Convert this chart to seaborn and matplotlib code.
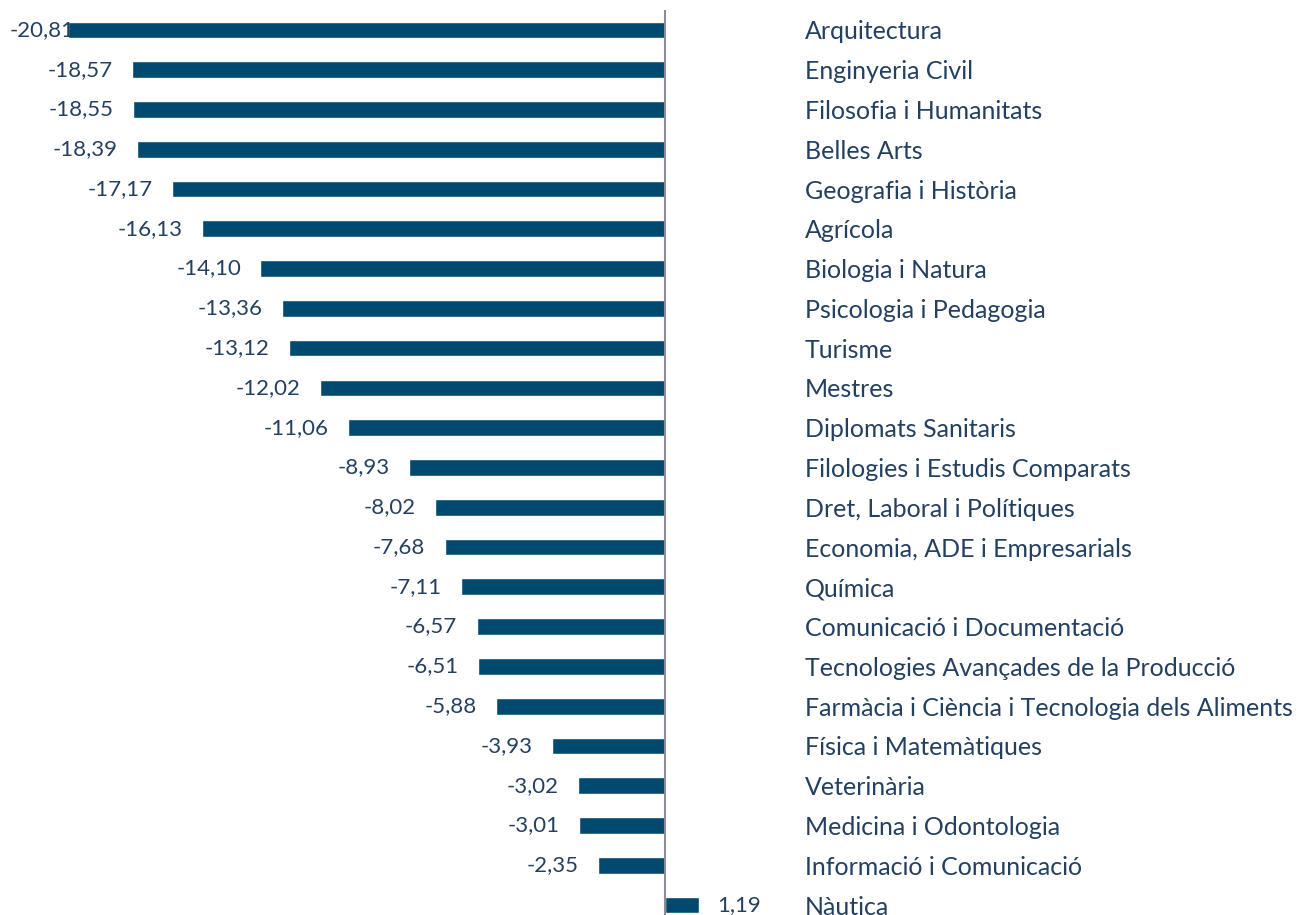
import matplotlib
matplotlib.use("Agg")
import matplotlib.pyplot as plt
import seaborn as sns
import pandas as pd

# Data
categories = [
    "Arquitectura", "Enginyeria Civil", "Filosofia i Humanitats", "Belles Arts",
    "Geografia i Història", "Agrícola", "Biologia i Natura", "Psicologia i Pedagogia",
    "Turisme", "Mestres", "Diplomats Sanitaris", "Filologies i Estudis Comparats",
    "Dret, Laboral i Polítiques", "Economia, ADE i Empresarials", "Química",
    "Comunicació i Documentació", "Tecnologies Avançades de la Producció",
    "Farmàcia i Ciència i Tecnologia dels Aliments", "Física i Matemàtiques",
    "Veterinària", "Medicina i Odontologia", "Informació i Comunicació", "Nàutica",
]
values = [
    -20.81, -18.57, -18.55, -18.39, -17.17, -16.13, -14.10, -13.36, -13.12,
    -12.02, -11.06, -8.93, -8.02, -7.68, -7.11, -6.57, -6.51, -5.88, -3.93,
    -3.02, -3.01, -2.35, 1.19,
]

bar_color = "#004a70"
text_color = "#244061"

df = pd.DataFrame({"area": categories, "valor": values})

sns.set_style("white")
plt.rcParams["font.family"] = ["Lato", "DejaVu Sans"]

fig = plt.figure(figsize=(13.01, 9.15), dpi=100)
ax = fig.add_axes([0.0, 0.0, 805 / 1301, 1 - 10 / 915])

sns.barplot(data=df, x="valor", y="area", orient="h", color=bar_color,
            width=0.42, saturation=1, ax=ax)

ax.set_xlim(-23.18, 4.88)
ax.set_ylim(22.25, -0.5)
ax.axvline(0, color="#8c8c99", lw=1.5, zorder=3)

# category names on the right side
ax.yaxis.tick_right()
ax.tick_params(axis="y", length=0, pad=0, labelsize=18, labelcolor=text_color)
ax.set_xticks([])
ax.set_xlabel("")
ax.set_ylabel("")
sns.despine(ax=ax, left=True, right=True, top=True, bottom=True)

# value labels
labels = []
for i, v in enumerate(values):
    txt = f"{v:.2f}".replace(".", ",")
    if v < 0:
        t = ax.annotate(txt, xy=(v, i), xytext=(-14, 0), textcoords="offset points",
                        ha="right", va="center", fontsize=16, color=text_color)
    else:
        t = ax.annotate(txt, xy=(v, i), xytext=(13, 0), textcoords="offset points",
                        ha="left", va="center", fontsize=16, color=text_color)
    labels.append(t)

# keep labels inside the figure, like the original
fig.canvas.draw()
renderer = fig.canvas.get_renderer()
for t in labels:
    bb = t.get_window_extent(renderer)
    if bb.x0 < 10:
        dx, dy = t.xyann
        t.xyann = (dx + (10 - bb.x0) * 72 / fig.dpi, dy)

fig.savefig("out.png", dpi=100)
